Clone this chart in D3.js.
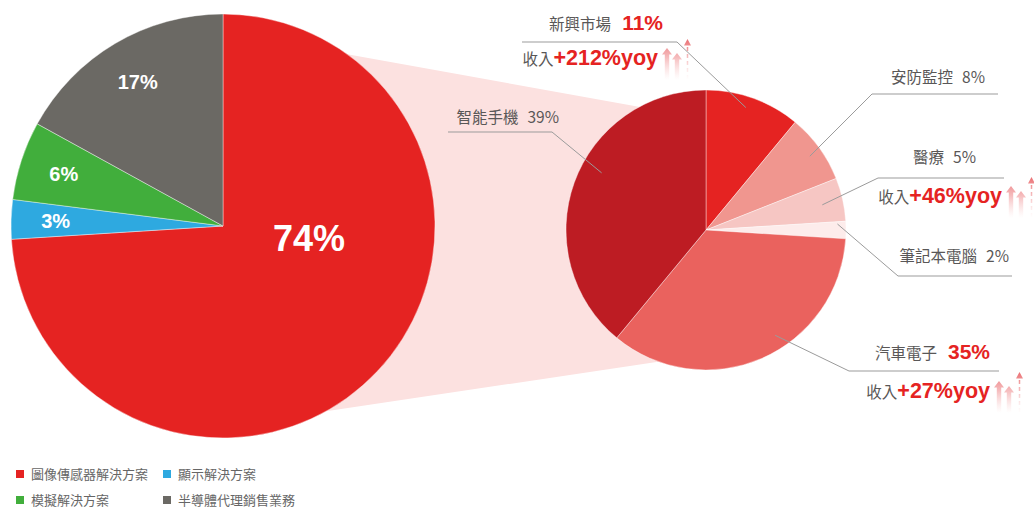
<!DOCTYPE html>
<html>
<head>
<meta charset="utf-8">
<script src="https://cdn.jsdelivr.net/npm/d3@7"></script>
<style>
  body { margin: 0; background: #fff; }
  svg { display: block; }
</style>
</head>
<body>
<div id="chart"></div>
<script>
// business segments (left pie)
const segNames = ["圖像傳感器解決方案", "顯示解決方案", "模擬解決方案", "半導體代理銷售業務"];
const segValues = [74, 3, 6, 17];
const segColors = ["#e52322", "#2ea9e0", "#41ae3c", "#6b6964"];

// image sensor breakdown (right pie)
const appNames = ["新興市場", "安防監控", "醫療", "筆記本電腦", "汽車電子", "智能手機"];
const appValues = [11, 8, 5, 2, 35, 39];
const appGrowth = ["+212%yoy", null, "+46%yoy", null, "+27%yoy", null];
const appColors = ["#e52322", "#f0968f", "#f6c6c3", "#fdeceb", "#ea625e", "#bd1c23"];

const width = 1034, height = 507;
const big = {cx: 223, cy: 226, r: 212};
const small = {cx: 706, cy: 230, r: 140};

// callout layout for the right pie, same order as appNames
const callouts = [
    {ang: 18, rf: 0.92, x1: 522, x2: 677, ly: 42, elbow: "right", tx: 663, ty: 30, yy: 65, yx: 658, hot: true},
    {ang: 54.6, rf: 0.91, x1: 872, x2: 998, ly: 94, elbow: "left", tx: 985, ty: 83},
    {ang: 77.8, rf: 0.85, x1: 878, x2: 1004, ly: 178, elbow: "left", tx: 976, ty: 163, yy: 203, yx: 1002},
    {ang: 87.4, rf: 0.94, x1: 898, x2: 1012, ly: 276, elbow: "left", tx: 1009, ty: 262},
    {ang: 146.7, rf: 0.9, x1: 849, x2: 999, ly: 371, elbow: "left", tx: 990, ty: 359, yy: 398, yx: 990, hot: true},
    {ang: 298.7, rf: 0.85, x1: 448, x2: 552, ly: 132, elbow: "right", tx: 559, ty: 123}
];

const cjk = "'Noto Sans CJK TC', 'Noto Sans', sans-serif";
const latinBold = "'Liberation Sans', Arial, sans-serif";
const rad = d => d * Math.PI / 180;
const polar = (c, r, deg) => [c.cx + r * Math.sin(rad(deg)), c.cy - r * Math.cos(rad(deg))];

const svg = d3.select("#chart").append("svg")
    .attr("width", width).attr("height", height);

const defs = svg.append("defs");

// pink connector behind both pies
const conn = [
    polar(big, big.r, 35.9),
    polar(small, small.r * 0.85, 346.9),
    polar(small, small.r * 0.915, 187.2),
    polar(big, big.r, 150.9)
];
svg.append("path")
    .attr("d", d3.line()(conn) + "Z")
    .attr("fill", "#fce1e0");

const pie = d3.pie().sort(null).value(d => d);

// left pie
const bigArcs = pie(segValues);
const bigArc = d3.arc().innerRadius(0).outerRadius(big.r);
const gBig = svg.append("g").attr("transform", `translate(${big.cx},${big.cy})`);
gBig.selectAll("path").data(bigArcs).join("path")
    .attr("d", bigArc)
    .attr("fill", (d, i) => segColors[i])
    .attr("stroke", "#fff").attr("stroke-width", 0.4);

const labelArc = d3.arc().innerRadius(big.r * 0.79).outerRadius(big.r * 0.79);
gBig.selectAll("text").data(bigArcs).join("text")
    .attr("transform", (d, i) => {
        if (i === 0) {
            const p = polar({cx: 0, cy: 0}, big.r * 0.41, 98);
            return `translate(${p[0]},${p[1]})`;
        }
        return `translate(${labelArc.centroid(d)})`;
    })
    .attr("dy", (d, i) => i === 0 ? "0.36em" : "0.35em")
    .attr("text-anchor", "middle")
    .attr("fill", "#fff")
    .attr("font-family", latinBold)
    .attr("font-weight", "bold")
    .attr("font-size", (d, i) => i === 0 ? "36px" : "20px")
    .text(d => d.data + "%");

// right pie
const smallArcs = pie(appValues);
const smallArc = d3.arc().innerRadius(0).outerRadius(small.r);
const gSmall = svg.append("g").attr("transform", `translate(${small.cx},${small.cy})`);
gSmall.selectAll("path").data(smallArcs).join("path")
    .attr("d", smallArc)
    .attr("fill", (d, i) => appColors[i])
    .attr("stroke", "#fff").attr("stroke-width", 0.4);

// callouts
const gLab = svg.append("g");
appNames.forEach((name, i) => {
    const c = callouts[i];
    const p = polar(small, small.r * c.rf, c.ang);
    const ex = c.elbow === "right" ? c.x2 : c.x1;
    const far = c.elbow === "right" ? c.x1 : c.x2;
    gLab.append("path")
        .attr("d", d3.line()([[far, c.ly], [ex, c.ly], p]))
        .attr("fill", "none")
        .attr("stroke", "#9b9b9b")
        .attr("stroke-width", 1);

    const hot = !!c.hot;
    const t = gLab.append("text")
        .attr("x", c.tx).attr("y", c.ty)
        .attr("text-anchor", "end");
    t.append("tspan")
        .attr("font-family", cjk).attr("font-size", "15.5px").attr("fill", "#595757")
        .text(name);
    t.append("tspan")
        .attr("dx", hot ? 11 : 9)
        .attr("font-family", hot ? latinBold : cjk)
        .attr("font-weight", hot ? "bold" : "normal")
        .attr("font-size", hot ? "21px" : "15.5px")
        .attr("fill", hot ? "#e52322" : "#595757")
        .text(appValues[i] + "%");

    if (appGrowth[i] !== null) {
        const y = gLab.append("text")
            .attr("x", c.yx).attr("y", c.yy)
            .attr("text-anchor", "end");
        y.append("tspan")
            .attr("font-family", cjk).attr("font-size", "15.5px").attr("fill", "#595757")
            .text("收入");
        y.append("tspan")
            .attr("font-family", latinBold).attr("font-weight", "bold")
            .attr("font-size", "21.5px").attr("fill", "#e52322")
            .text(appGrowth[i]);

        // growth arrows fading downward
        const top = c.yy - 26, bot = c.yy + 15;
        const gid = "ag" + i;
        const grad = defs.append("linearGradient").attr("id", gid)
            .attr("gradientUnits", "userSpaceOnUse")
            .attr("x1", 0).attr("x2", 0).attr("y1", top).attr("y2", bot);
        grad.append("stop").attr("offset", "0%").attr("stop-color", "#e85e62").attr("stop-opacity", 0.9);
        grad.append("stop").attr("offset", "45%").attr("stop-color", "#ef8f91").attr("stop-opacity", 0.6);
        grad.append("stop").attr("offset", "100%").attr("stop-color", "#f8c4c4").attr("stop-opacity", 0);

        const arrow = (x, yt, hw, sw, hh) =>
            `M${x},${yt} L${x + hw},${yt + hh} L${x + sw},${yt + hh} L${x + sw},${bot} L${x - sw},${bot} L${x - sw},${yt + hh} L${x - hw},${yt + hh} Z`;
        const ax = c.yx + 9;
        gLab.append("path").attr("d", arrow(ax, c.yy - 17, 5, 2.2, 6.5)).attr("fill", `url(#${gid})`);
        gLab.append("path").attr("d", arrow(ax + 10, c.yy - 12, 5, 2.2, 6.5)).attr("fill", `url(#${gid})`);
        gLab.append("path").attr("d", arrow(ax + 20.5, top, 3.5, 0, 6.5)).attr("fill", `url(#${gid})`);
        gLab.append("line")
            .attr("x1", ax + 20.5).attr("x2", ax + 20.5)
            .attr("y1", top + 8).attr("y2", bot)
            .attr("stroke", `url(#${gid})`)
            .attr("stroke-width", 1.5)
            .attr("stroke-dasharray", "4,3");
    }
});

// legend
const legendPos = [[16, 470], [163, 470], [16, 496], [163, 496]];
const gLeg = svg.append("g");
segNames.forEach((n, i) => {
    const [lx, ly] = legendPos[i];
    gLeg.append("rect")
        .attr("x", lx).attr("y", ly).attr("width", 8).attr("height", 8)
        .attr("fill", segColors[i]);
    gLeg.append("text")
        .attr("x", lx + 15).attr("y", ly + 8.5)
        .attr("font-family", cjk).attr("font-size", "13px").attr("fill", "#666")
        .text(n);
});
</script>
</body>
</html>
